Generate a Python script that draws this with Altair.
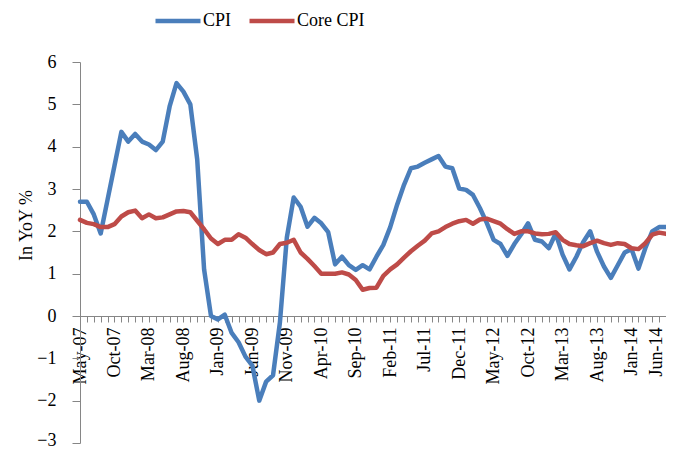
import json
import altair as alt
import pandas as pd

tick_labels = ["May-07", "Oct-07", "Mar-08", "Aug-08", "Jan-09", "Jun-09",
               "Nov-09", "Apr-10", "Sep-10", "Feb-11", "Jul-11", "Dec-11",
               "May-12", "Oct-12", "Mar-13", "Aug-13", "Jan-14", "Jun-14"]

# monthly values, May-07 .. Jun-14
cpi = [2.7, 2.7, 2.4, 1.95, 2.75, 3.55, 4.35, 4.12, 4.3, 4.12,
       4.05, 3.92, 4.12, 4.95, 5.5, 5.3, 5.0, 3.7, 1.1, 0.0,
       -0.08, 0.03, -0.4, -0.62, -0.96, -1.17, -2.0, -1.55, -1.4, -0.15,
       1.85, 2.8, 2.58, 2.11, 2.32, 2.19, 1.98, 1.22, 1.4, 1.2,
       1.09, 1.2, 1.1, 1.4, 1.68, 2.1, 2.63, 3.1, 3.49, 3.53,
       3.62, 3.7, 3.78, 3.53, 3.49, 3.01, 2.98, 2.86, 2.55, 2.2,
       1.8, 1.7, 1.42, 1.7, 1.93, 2.19, 1.8, 1.76, 1.6, 1.95,
       1.45, 1.1, 1.4, 1.75, 2.0, 1.52, 1.17, 0.9, 1.2, 1.5,
       1.58, 1.12, 1.6, 2.0, 2.1, 2.1]

core_cpi = [2.27, 2.2, 2.17, 2.1, 2.1, 2.17, 2.35, 2.45, 2.49, 2.31,
            2.4, 2.31, 2.33, 2.4, 2.47, 2.48, 2.45, 2.25, 2.05, 1.83,
            1.7, 1.8, 1.8, 1.93, 1.85, 1.7, 1.56, 1.46, 1.5, 1.7,
            1.73, 1.8, 1.5, 1.35, 1.18, 1.0, 1.0, 1.0, 1.03, 0.98,
            0.85, 0.62, 0.66, 0.67, 0.95, 1.1, 1.22, 1.38, 1.53, 1.66,
            1.78, 1.95, 2.0, 2.1, 2.18, 2.24, 2.27, 2.18, 2.28, 2.3,
            2.24, 2.18, 2.05, 1.94, 2.0, 2.0, 1.95, 1.93, 1.94, 1.98,
            1.8, 1.7, 1.67, 1.65, 1.72, 1.78, 1.72, 1.68, 1.72, 1.7,
            1.6, 1.58, 1.72, 1.92, 1.97, 1.94]

series_names = ["CPI", "Core CPI"]
colors = ["#4A7EBB", "#BE4B48"]

n = len(cpi)
df = pd.DataFrame({
    "t": list(range(n)) * 2,
    "value": cpi + core_cpi,
    "series": [series_names[0]] * n + [series_names[1]] * n,
    "ord": [0] * n + [1] * n,
})

FONT = "Liberation Serif"
W, H = 586, 381
label_expr = ("datum.value % 5 == 0 ? " + json.dumps(tick_labels)
              + "[datum.value / 5] : ''")
# keep the edge labels inside the page
last_x_label_shift = {"condition": {"test": "datum.value === %d" % (n - 1), "value": -10},
                      "value": 0}
bottom_y_label_shift = {"condition": {"test": "datum.value === -3", "value": -3},
                        "value": 0}

chart = alt.Chart(df).mark_line(
    strokeWidth=4.5, strokeJoin="round", strokeCap="round"
).encode(
    x=alt.X("t:Q",
            scale=alt.Scale(domain=[0, n - 1], nice=False, zero=False),
            axis=alt.Axis(values=list(range(n)), labelExpr=label_expr,
                          labelAngle=270, labelAlign="right", labelBaseline="middle",
                          labelOverlap=False, labelFlush=False,
                          labelOffset=last_x_label_shift,
                          tickSize=6, labelPadding=5, offset=-H / 3.0,
                          grid=False, title=None,
                          domainColor="#868686", tickColor="#868686",
                          labelFont=FONT, labelFontSize=18, labelColor="black")),
    y=alt.Y("value:Q",
            scale=alt.Scale(domain=[-3, 6], nice=False, zero=False),
            axis=alt.Axis(values=list(range(-3, 7)), tickSize=8, labelPadding=16,
                          labelOffset=bottom_y_label_shift,
                          grid=False, title="In YoY %",
                          titleAngle=270, titleAlign="center", titleBaseline="alphabetic",
                          titleX=-49, titleY=163,
                          titleFont=FONT, titleFontSize=18, titleFontWeight="normal",
                          titleColor="black",
                          domainColor="#868686", tickColor="#868686",
                          labelFont=FONT, labelFontSize=18, labelColor="black")),
    color=alt.Color("series:N",
                    scale=alt.Scale(domain=series_names, range=colors),
                    legend=alt.Legend(orient="none", legendX=73, legendY=-66,
                                      direction="horizontal", title=None,
                                      symbolType="stroke", symbolStrokeWidth=4.5,
                                      symbolSize=2025, labelOffset=0, columnPadding=8,
                                      labelFont=FONT, labelFontSize=18,
                                      labelColor="black")),
    order=alt.Order("ord:Q"),
).properties(
    width=W, height=H,
    padding={"left": 72, "top": 54, "right": 0, "bottom": 7},
    autosize=alt.AutoSizeParams(type="none"),
).configure_view(stroke=None)

chart.save("out.html", embed_options={"renderer": "svg", "actions": False})
